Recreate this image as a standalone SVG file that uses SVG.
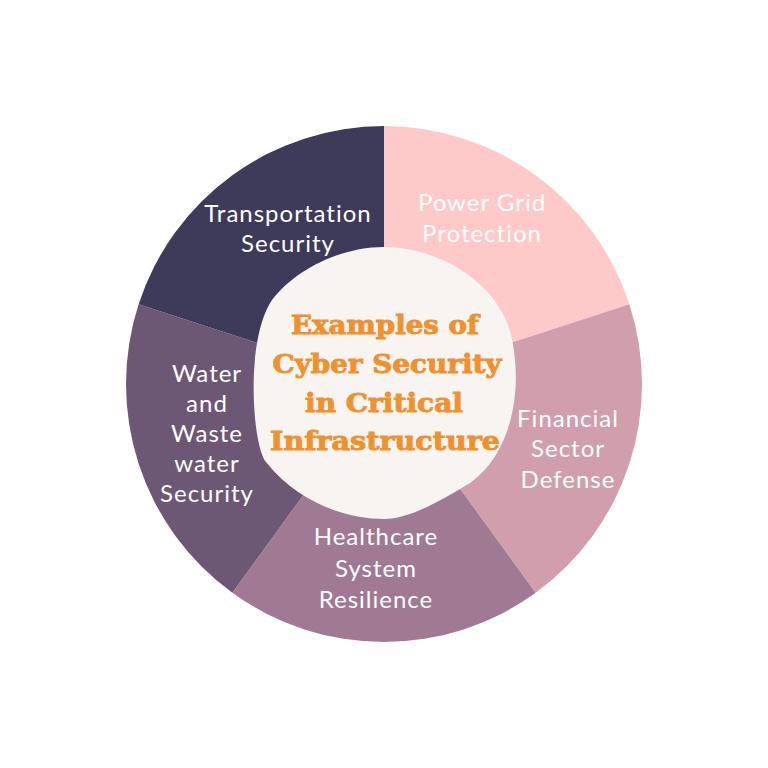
<svg xmlns="http://www.w3.org/2000/svg" width="768" height="768" viewBox="0 0 768 768">
<style>
.lbl{font-family:Lato,"Open Sans","DejaVu Sans",sans-serif;font-size:24px;fill:#ffffff;text-anchor:middle;letter-spacing:1px}
.ttl{font-family:"DejaVu Serif","Liberation Serif",serif;font-weight:bold;font-size:26px;fill:#f0912f;stroke:#f0912f;stroke-width:0.9;text-anchor:middle}
</style>
<rect width="768" height="768" fill="#ffffff"/>
<g id="power-grid">
<path d="M384,384 L384,126 A258,258 0 0 1 629.37,304.27 Z" fill="#fdc9c9"/>
<text class="lbl" x="482" y="211">Power Grid</text>
<text class="lbl" x="482" y="242">Protection</text>
</g>
<g id="financial">
<path d="M384,384 L629.37,304.27 A258,258 0 0 1 535.65,592.73 Z" fill="#d09ead"/>
<text class="lbl" x="568" y="427">Financial</text>
<text class="lbl" x="568" y="457">Sector</text>
<text class="lbl" x="568" y="488">Defense</text>
</g>
<g id="healthcare">
<path d="M384,384 L535.65,592.73 A258,258 0 0 1 232.35,592.73 Z" fill="#a07a92"/>
<text class="lbl" x="376" y="545">Healthcare</text>
<text class="lbl" x="376" y="577">System</text>
<text class="lbl" x="376" y="608">Resilience</text>
</g>
<g id="water">
<path d="M384,384 L232.35,592.73 A258,258 0 0 1 138.63,304.27 Z" fill="#6c5775"/>
<text class="lbl" x="207" y="382">Water</text>
<text class="lbl" x="207" y="412">and</text>
<text class="lbl" x="207" y="442">Waste</text>
<text class="lbl" x="207" y="472">water</text>
<text class="lbl" x="207" y="502">Security</text>
</g>
<g id="transportation">
<path d="M384,384 L138.63,304.27 A258,258 0 0 1 384,126 Z" fill="#3e3a5a"/>
<text class="lbl" x="288" y="222">Transportation</text>
<text class="lbl" x="288" y="252">Security</text>
</g>
<g id="center">
<path d="M384,247 C440,247 505,285 513,345 C522,395 510,455 470,483 C448,496 412,519 384,519 C350,519 300,505 266,462 C252,444 245,340 272,300 C295,270 340,247 384,247 Z" fill="#f7f4f1"/>
<text class="ttl" x="385" y="334" textLength="188" lengthAdjust="spacingAndGlyphs">Examples of</text>
<text class="ttl" x="387" y="373" textLength="229" lengthAdjust="spacingAndGlyphs">Cyber Security</text>
<text class="ttl" x="384" y="412" textLength="158" lengthAdjust="spacingAndGlyphs">in Critical</text>
<text class="ttl" x="385" y="450" textLength="230" lengthAdjust="spacingAndGlyphs">Infrastructure</text>
</g>
<g id="connectors"></g>
</svg>
